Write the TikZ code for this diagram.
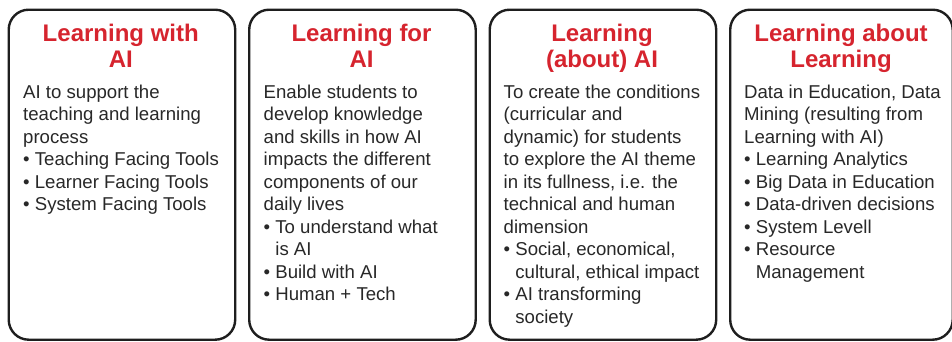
\documentclass[tikz,border=0pt]{standalone}
\usepackage{fontspec}
\setmainfont{Liberation Sans}
\definecolor{titlered}{RGB}{214,36,46}
\definecolor{bodygray}{RGB}{40,40,40}
\definecolor{edgegray}{RGB}{30,30,30}
\newcommand{\cont}{\hphantom{• }}
\tikzset{
  card/.style={draw=edgegray, line width=2.4pt, rounded corners=20pt, fill=white,
    anchor=north west, inner sep=0pt},
  cardtitle/.style={anchor=base, inner sep=0pt, text=titlered,
    font=\fontsize{24}{26}\selectfont\bfseries},
  cardbody/.style={anchor=base west, inner sep=0pt, text=bodygray,
    font=\fontsize{18.6}{22.5}\selectfont},
}
\begin{document}
\begin{tikzpicture}[x=1pt,y=1pt]
\useasboundingbox (0,0) rectangle (952,-341);
% cards
\node[card, minimum width=226.5pt, minimum height=330pt] (c1) at (7.5,-8.5) {};
\node[card, minimum width=226.5pt, minimum height=330pt] (c2) at (248,-8.5) {};
\node[card, minimum width=226.5pt, minimum height=330pt] (c3) at (488.5,-8.5) {};
\node[card, minimum width=222.5pt, minimum height=330pt] (c4) at (729,-8.5) {};
% titles
\node[cardtitle] (t1) at (120.75,-41.7) {\parbox[t]{220pt}{\centering Learning with\\AI}};
\node[cardtitle] (t2) at (361.5,-41.7) {\parbox[t]{220pt}{\centering Learning for\\AI}};
\node[cardtitle] (t3) at (602,-41.7) {\parbox[t]{220pt}{\centering Learning\\(about) AI}};
\node[cardtitle] (t4) at (841,-41.7) {\parbox[t]{220pt}{\centering Learning about\\Learning}};
% bodies
\node[cardbody] (b1) at (23,-98.3) {\parbox[t]{210pt}{%
AI to support the\\
teaching and learning\\
process\\
• Teaching Facing Tools\\
• Learner Facing Tools\\
• System Facing Tools}};
\node[cardbody] (b2) at (263.5,-98.3) {\parbox[t]{210pt}{%
Enable students to\\
develop knowledge\\
and skills in how AI\\
impacts the different\\
components of our\\
daily lives\\
• To understand what\\
\cont is AI\\
• Build with AI\\
• Human + Tech}};
\node[cardbody] (b3) at (503.5,-98.3) {\parbox[t]{210pt}{%
To create the conditions\\
(curricular and\\
dynamic) for students\\
to explore the AI theme\\
in its fullness, i.e. the\\
technical and human\\
dimension\\
• Social, economical,\\
\cont cultural, ethical impact\\
• AI transforming\\
\cont society}};
\node[cardbody] (b4) at (744,-98.3) {\parbox[t]{210pt}{%
Data in Education, Data\\
Mining (resulting from\\
Learning with AI)\\
• Learning Analytics\\
• Big Data in Education\\
• Data-driven decisions\\
• System Levell\\
• Resource\\
\cont Management}};
\end{tikzpicture}
\end{document}
